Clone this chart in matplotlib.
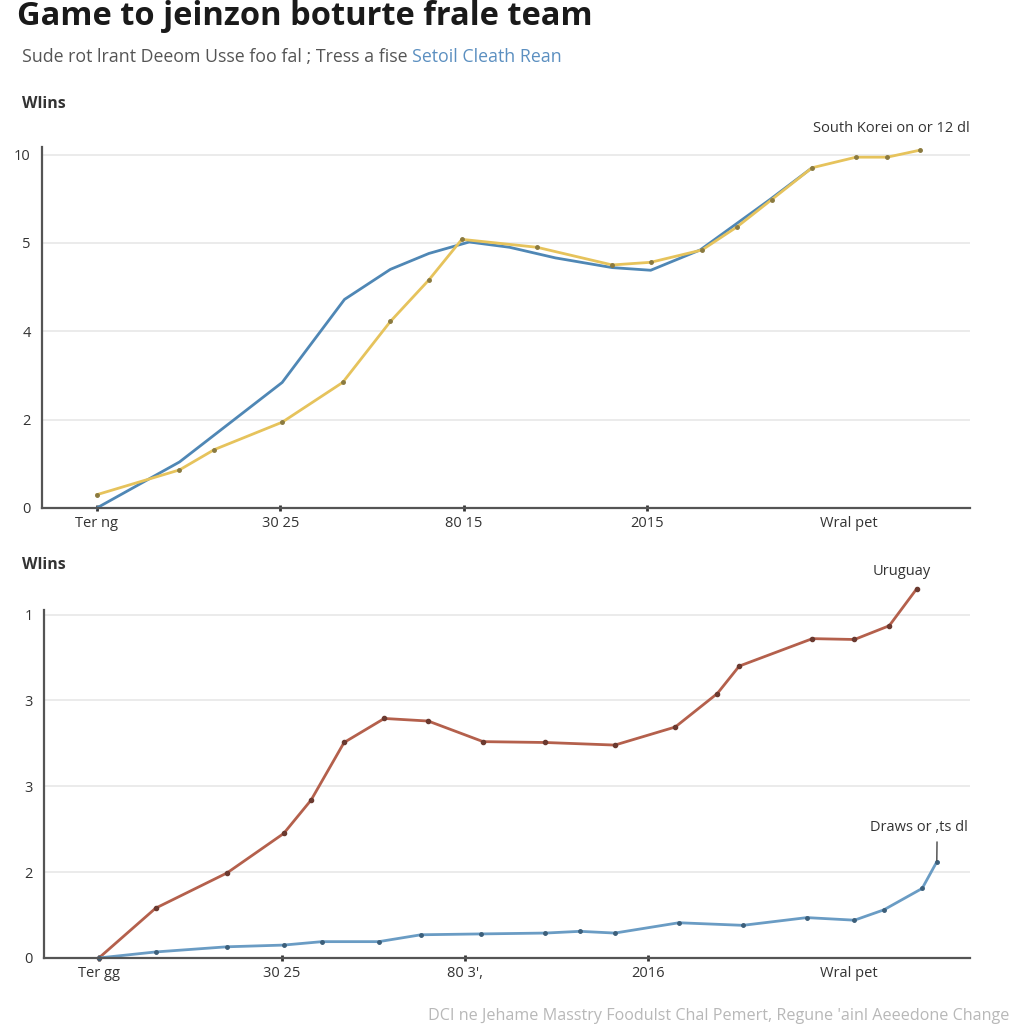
import matplotlib
matplotlib.use("Agg")
import matplotlib.pyplot as plt

plt.rcParams['font.family'] = ['Open Sans', 'DejaVu Sans']

# x positions in tick units (0 = first tick), y in gridline units
x_ticks = [0, 1, 2, 3, 4.1]
top_xlabels = ["Ter ng", "30 25", "80 15", "2015", "Wral pet"]
bot_xlabels = ["Ter gg", "30 25", "80 3',", "2016", "Wral pet"]
top_ylabels = ["0", "2", "4", "5", "10"]
bot_ylabels = ["0", "2", "3", "3", "1"]

top_blue_x = [0, 0.45, 1.01, 1.35, 1.60, 1.81, 2.03, 2.25, 2.50, 2.81, 3.02, 3.29, 3.67, 3.90]
top_blue_y = [0, 0.52, 1.42, 2.36, 2.70, 2.88, 3.01, 2.95, 2.83, 2.72, 2.69, 2.92, 3.49, 3.85]

top_gold_x = [0, 0.45, 0.64, 1.01, 1.34, 1.60, 1.81, 1.99, 2.40, 2.81, 3.02, 3.30, 3.49, 3.68, 3.90, 4.14, 4.31, 4.49]
top_gold_y = [0.15, 0.43, 0.66, 0.97, 1.42, 2.11, 2.58, 3.04, 2.95, 2.75, 2.78, 2.92, 3.18, 3.49, 3.85, 3.97, 3.97, 4.05]

uru_x = [0, 0.31, 0.70, 1.01, 1.16, 1.34, 1.56, 1.80, 2.10, 2.44, 2.82, 3.15, 3.38, 3.50, 3.90, 4.13, 4.32, 4.47]
uru_y = [0, 0.58, 0.99, 1.45, 1.84, 2.51, 2.79, 2.76, 2.52, 2.51, 2.48, 2.69, 3.08, 3.40, 3.72, 3.71, 3.87, 4.30]

draw_x = [0, 0.31, 0.70, 1.01, 1.22, 1.53, 1.76, 2.09, 2.44, 2.63, 2.82, 3.17, 3.52, 3.87, 4.13, 4.29, 4.50, 4.58]
draw_y = [0, 0.07, 0.13, 0.15, 0.19, 0.19, 0.27, 0.28, 0.29, 0.31, 0.29, 0.41, 0.38, 0.47, 0.44, 0.56, 0.81, 1.12]

blue = "#4f87b5"
gold = "#e6c35c"
red = "#b4604c"
blue2 = "#6a9cc4"
grey = "#555555"

fig = plt.figure(figsize=(10.24, 10.24), dpi=100)
fig.patch.set_facecolor("white")

fig.text(0.017, 1.0, "Game to jeinzon boturte frale team", fontsize=23.5,
         fontweight="bold", color="#1a1a1a", va="top", ha="left")
t = fig.text(0.021, 0.944, "Sude rot lrant Deeom Usse foo fal ; Tress a fise ", fontsize=12.8,
             color="#555555", va="center", ha="left")
fig.canvas.draw()
bb = t.get_window_extent()
fig.text(bb.x1 / fig.bbox.width, 0.944, "Setoil Cleath Rean", fontsize=12.8,
         color="#5b8fc0", va="center", ha="left")
fig.text(0.021, 0.898, "Wlins", fontsize=11.5, fontweight="bold", color="#333333", va="center")
fig.text(0.021, 0.448, "Wlins", fontsize=11.5, fontweight="bold", color="#333333", va="center")
fig.text(0.986, 0.008, "DCI ne Jehame Masstry Foodulst Chal Pemert, Regune 'ainl Aeeedone Change",
         fontsize=11.6, color="#b8b8b8", ha="right", va="center")


def style(ax, xlabels, ylabels, ytop):
    ax.set_xlim(-0.30, 4.76)
    ax.set_ylim(0, ytop)
    ax.set_yticks(range(5))
    ax.set_yticklabels(ylabels)
    ax.set_xticks(x_ticks)
    ax.set_xticklabels(xlabels)
    for s in ["top", "right"]:
        ax.spines[s].set_visible(False)
    ax.spines["left"].set_color(grey)
    ax.spines["bottom"].set_color(grey)
    ax.spines["left"].set_linewidth(1.6)
    ax.spines["bottom"].set_linewidth(1.6)
    ax.tick_params(axis="y", length=0, pad=8, labelsize=10.5, labelcolor="#333333")
    ax.tick_params(axis="x", length=4, width=2, color="#333333", direction="inout",
                   pad=4, labelsize=10.5, labelcolor="#333333")
    ax.xaxis.get_major_ticks()[-1].tick1line.set_visible(False)
    ax.grid(axis="y", color="#e8e8e8", linewidth=1.2)
    ax.set_axisbelow(True)


ax1 = fig.add_axes([0.041, 0.504, 0.906, 0.352])
style(ax1, top_xlabels, top_ylabels, 4.08)
ax1.plot(top_blue_x, top_blue_y, color=blue, lw=2, clip_on=False)
ax1.plot(top_gold_x, top_gold_y, color=gold, lw=2, marker="o", ms=2.5,
         mfc="#8a7a40", mec="#8a7a40", clip_on=False)
ax1.text(4.33, 4.3, "South Korei on or 12 dl", fontsize=10.5, color="#333333",
         ha="center", va="center")

ax2 = fig.add_axes([0.043, 0.0645, 0.904, 0.3395])
style(ax2, bot_xlabels, bot_ylabels, 4.05)
ax2.plot(uru_x, uru_y, color=red, lw=2, marker="o", ms=3,
         mfc="#6b3a30", mec="#6b3a30", clip_on=False)
ax2.plot(draw_x, draw_y, color=blue2, lw=2, marker="o", ms=2.5,
         mfc="#3c5f7a", mec="#3c5f7a", clip_on=False)
ax2.text(4.39, 4.5, "Uruguay", fontsize=10.5, color="#333333", ha="center", va="center")
ax2.annotate("Draws or ,ts dl", xy=(draw_x[-1], draw_y[-1]), xytext=(4.48, 1.52),
             fontsize=10.5, color="#333333", ha="center", va="center",
             arrowprops=dict(arrowstyle="-", color="#444444", lw=1,
                             shrinkA=3, shrinkB=1, relpos=(0.69, 0)))

fig.savefig("out.png", dpi=100, facecolor="white")
